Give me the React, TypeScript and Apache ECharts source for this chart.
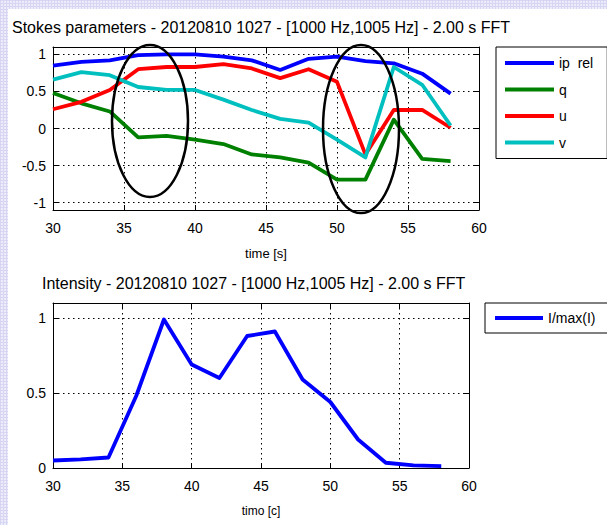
import React, { useEffect, useRef } from "react";
import * as echarts from "echarts";

const times = [30, 32, 34, 36, 38, 40, 42, 44, 46, 48, 50, 52, 54, 56, 58];
const ipRel = [0.85, 0.9, 0.92, 0.99, 1.0, 1.0, 0.97, 0.92, 0.79, 0.94, 0.97, 0.91, 0.88, 0.74, 0.47];
const qVals = [0.48, 0.34, 0.23, -0.12, -0.1, -0.15, -0.21, -0.35, -0.39, -0.46, -0.69, -0.69, 0.12, -0.41, -0.44];
const uVals = [0.26, 0.36, 0.52, 0.8, 0.83, 0.83, 0.87, 0.81, 0.68, 0.8, 0.63, -0.35, 0.25, 0.25, 0.01];
const vVals = [0.66, 0.76, 0.72, 0.56, 0.52, 0.52, 0.39, 0.25, 0.13, 0.08, -0.15, -0.39, 0.83, 0.59, 0.04];
const intensity = [0.05, 0.057, 0.07, 0.48, 0.99, 0.69, 0.6, 0.88, 0.91, 0.59, 0.44, 0.19, 0.035, 0.018, 0.013];

const stokesNames = ["ip  rel", "q", "u", "v"];
const intensityName = "I/max(I)";
const stokesTicks = [-1, -0.5, 0, 0.5, 1];
const intensityTicks = [0, 0.5, 1];

const titleTop = "Stokes parameters - 20120810 1027 - [1000 Hz,1005 Hz] - 2.00 s FFT";
const titleBottom = "Intensity - 20120810 1027 - [1000 Hz,1005 Hz] - 2.00 s FFT";

const FONT = "'Liberation Sans', Arial, Helvetica, sans-serif";

function pairs(ys: number[]) {
  return times.map((t, i) => [t, ys[i]]);
}

export default function App() {
  const ref = useRef<HTMLDivElement>(null);
  useEffect(() => {
    if (!ref.current) return;
    const chart = echarts.init(ref.current, null, { renderer: "svg" });
    const tickStyle = { show: true, inside: true, length: 5, lineStyle: { color: "#000", width: 1 } };
    const axisLine = { show: true, onZero: false, lineStyle: { color: "#000", width: 1 } };
    const split = { show: true, lineStyle: { color: "#000", width: 1, type: [1.5, 3.5] as any } };
    const label = { color: "#000", fontSize: 14, fontFamily: FONT };
    const xBase = (grid: number) => ({
      type: "value" as const,
      gridIndex: grid,
      min: 30,
      max: 60,
      interval: 5,
    });
    const yBase = (grid: number, min: number, max: number, ticks: number[]) => ({
      type: "value" as const,
      gridIndex: grid,
      min,
      max,
      axisTick: { ...tickStyle, customValues: ticks },
      axisLine,
    });
    const lineSeries = (name: string, data: number[], color: string, xi: number, yi: number) => ({
      type: "line" as const,
      name,
      xAxisIndex: xi,
      yAxisIndex: yi,
      data: pairs(data),
      showSymbol: false,
      symbol: "none",
      lineStyle: { color, width: 3.8, join: "round" as any },
      itemStyle: { color },
      z: 3,
    });
    const legendCommon = {
      orient: "vertical" as const,
      icon: "rect",
      itemHeight: 4,
      borderColor: "#000",
      borderWidth: 1,
      backgroundColor: "#fff",
      textStyle: { fontSize: 14, color: "#000", fontFamily: FONT, lineHeight: 16 },
    };
    const titleStyle = { fontSize: 16, fontWeight: "normal" as const, color: "#000", fontFamily: FONT };
    chart.setOption({
      animation: false,
      backgroundColor: "transparent",
      textStyle: { fontFamily: FONT },
      title: [
        { text: titleTop, left: 12, top: 19, padding: 0, textStyle: titleStyle },
        { text: titleBottom, left: 42, top: 275, padding: 0, textStyle: titleStyle },
      ],
      legend: [
        {
          ...legendCommon,
          data: stokesNames,
          left: 496,
          top: 47,
          padding: [8, 14, 8, 9],
          itemWidth: 49,
          itemGap: 10.5,
        },
        {
          ...legendCommon,
          data: [intensityName],
          left: 485,
          top: 303,
          padding: [7, 14, 7, 10],
          itemWidth: 48,
        },
      ],
      grid: [
        { left: 53, top: 47, width: 426, height: 163, show: false },
        { left: 53, top: 303, width: 416, height: 165, show: false },
      ],
      xAxis: [
        {
          ...xBase(0),
          position: "bottom",
          axisLine,
          axisTick: tickStyle,
          splitLine: split,
          axisLabel: { ...label, margin: 11 },
          name: "time [s]",
          nameLocation: "middle",
          nameGap: 37,
          nameTextStyle: { color: "#000", fontSize: 13, fontFamily: FONT },
        },
        {
          ...xBase(1),
          position: "bottom",
          axisLine,
          axisTick: tickStyle,
          splitLine: split,
          axisLabel: { ...label, margin: 11 },
          name: "timo [c]",
          nameLocation: "middle",
          nameGap: 37,
          nameTextStyle: { color: "#000", fontSize: 12, fontFamily: FONT },
        },
        { ...xBase(0), position: "top", axisLine, axisTick: tickStyle, splitLine: { show: false }, axisLabel: { show: false } },
        { ...xBase(1), position: "top", axisLine, axisTick: tickStyle, splitLine: { show: false }, axisLabel: { show: false } },
      ],
      yAxis: [
        {
          ...yBase(0, -1.1, 1.1, stokesTicks),
          position: "left",
          splitLine: { ...split, customValues: stokesTicks },
          axisLabel: { ...label, margin: 7, customValues: stokesTicks },
        },
        {
          ...yBase(1, 0, 1.1, intensityTicks),
          position: "left",
          splitLine: { ...split, customValues: intensityTicks },
          axisLabel: { ...label, margin: 7, customValues: intensityTicks },
        },
        { ...yBase(0, -1.1, 1.1, stokesTicks), position: "right", splitLine: { show: false }, axisLabel: { show: false } },
        { ...yBase(1, 0, 1.1, intensityTicks), position: "right", splitLine: { show: false }, axisLabel: { show: false } },
      ],
      series: [
        lineSeries(stokesNames[0], ipRel, "#0000ff", 0, 0),
        lineSeries(stokesNames[1], qVals, "#008000", 0, 0),
        lineSeries(stokesNames[2], uVals, "#ff0000", 0, 0),
        lineSeries(stokesNames[3], vVals, "#00bfbf", 0, 0),
        lineSeries(intensityName, intensity, "#0000ff", 1, 1),
      ],
      graphic: [
        { type: "ellipse", shape: { cx: 150, cy: 121, rx: 38, ry: 76 }, style: { fill: "none", stroke: "#000", lineWidth: 2.5 }, z: 100 },
        { type: "ellipse", shape: { cx: 361, cy: 129, rx: 38, ry: 84 }, style: { fill: "none", stroke: "#000", lineWidth: 2.5 }, z: 100 },
      ],
    });
    return () => chart.dispose();
  }, []);
  return (
    <div
      style={{
        position: "fixed",
        left: 0,
        top: 0,
        width: 607,
        height: 525,
        backgroundColor: "#ececfa",
        backgroundImage:
          "linear-gradient(#d6d6f3 1px, transparent 1px), linear-gradient(90deg, #d6d6f3 1px, transparent 1px)",
        backgroundSize: "3px 3px",
      }}
    >
      <div style={{ position: "absolute", left: 8, top: 9, width: 599, height: 516, background: "#fff" }} />
      <div ref={ref} style={{ position: "absolute", left: 0, top: 0, width: 607, height: 525 }} />
    </div>
  );
}
